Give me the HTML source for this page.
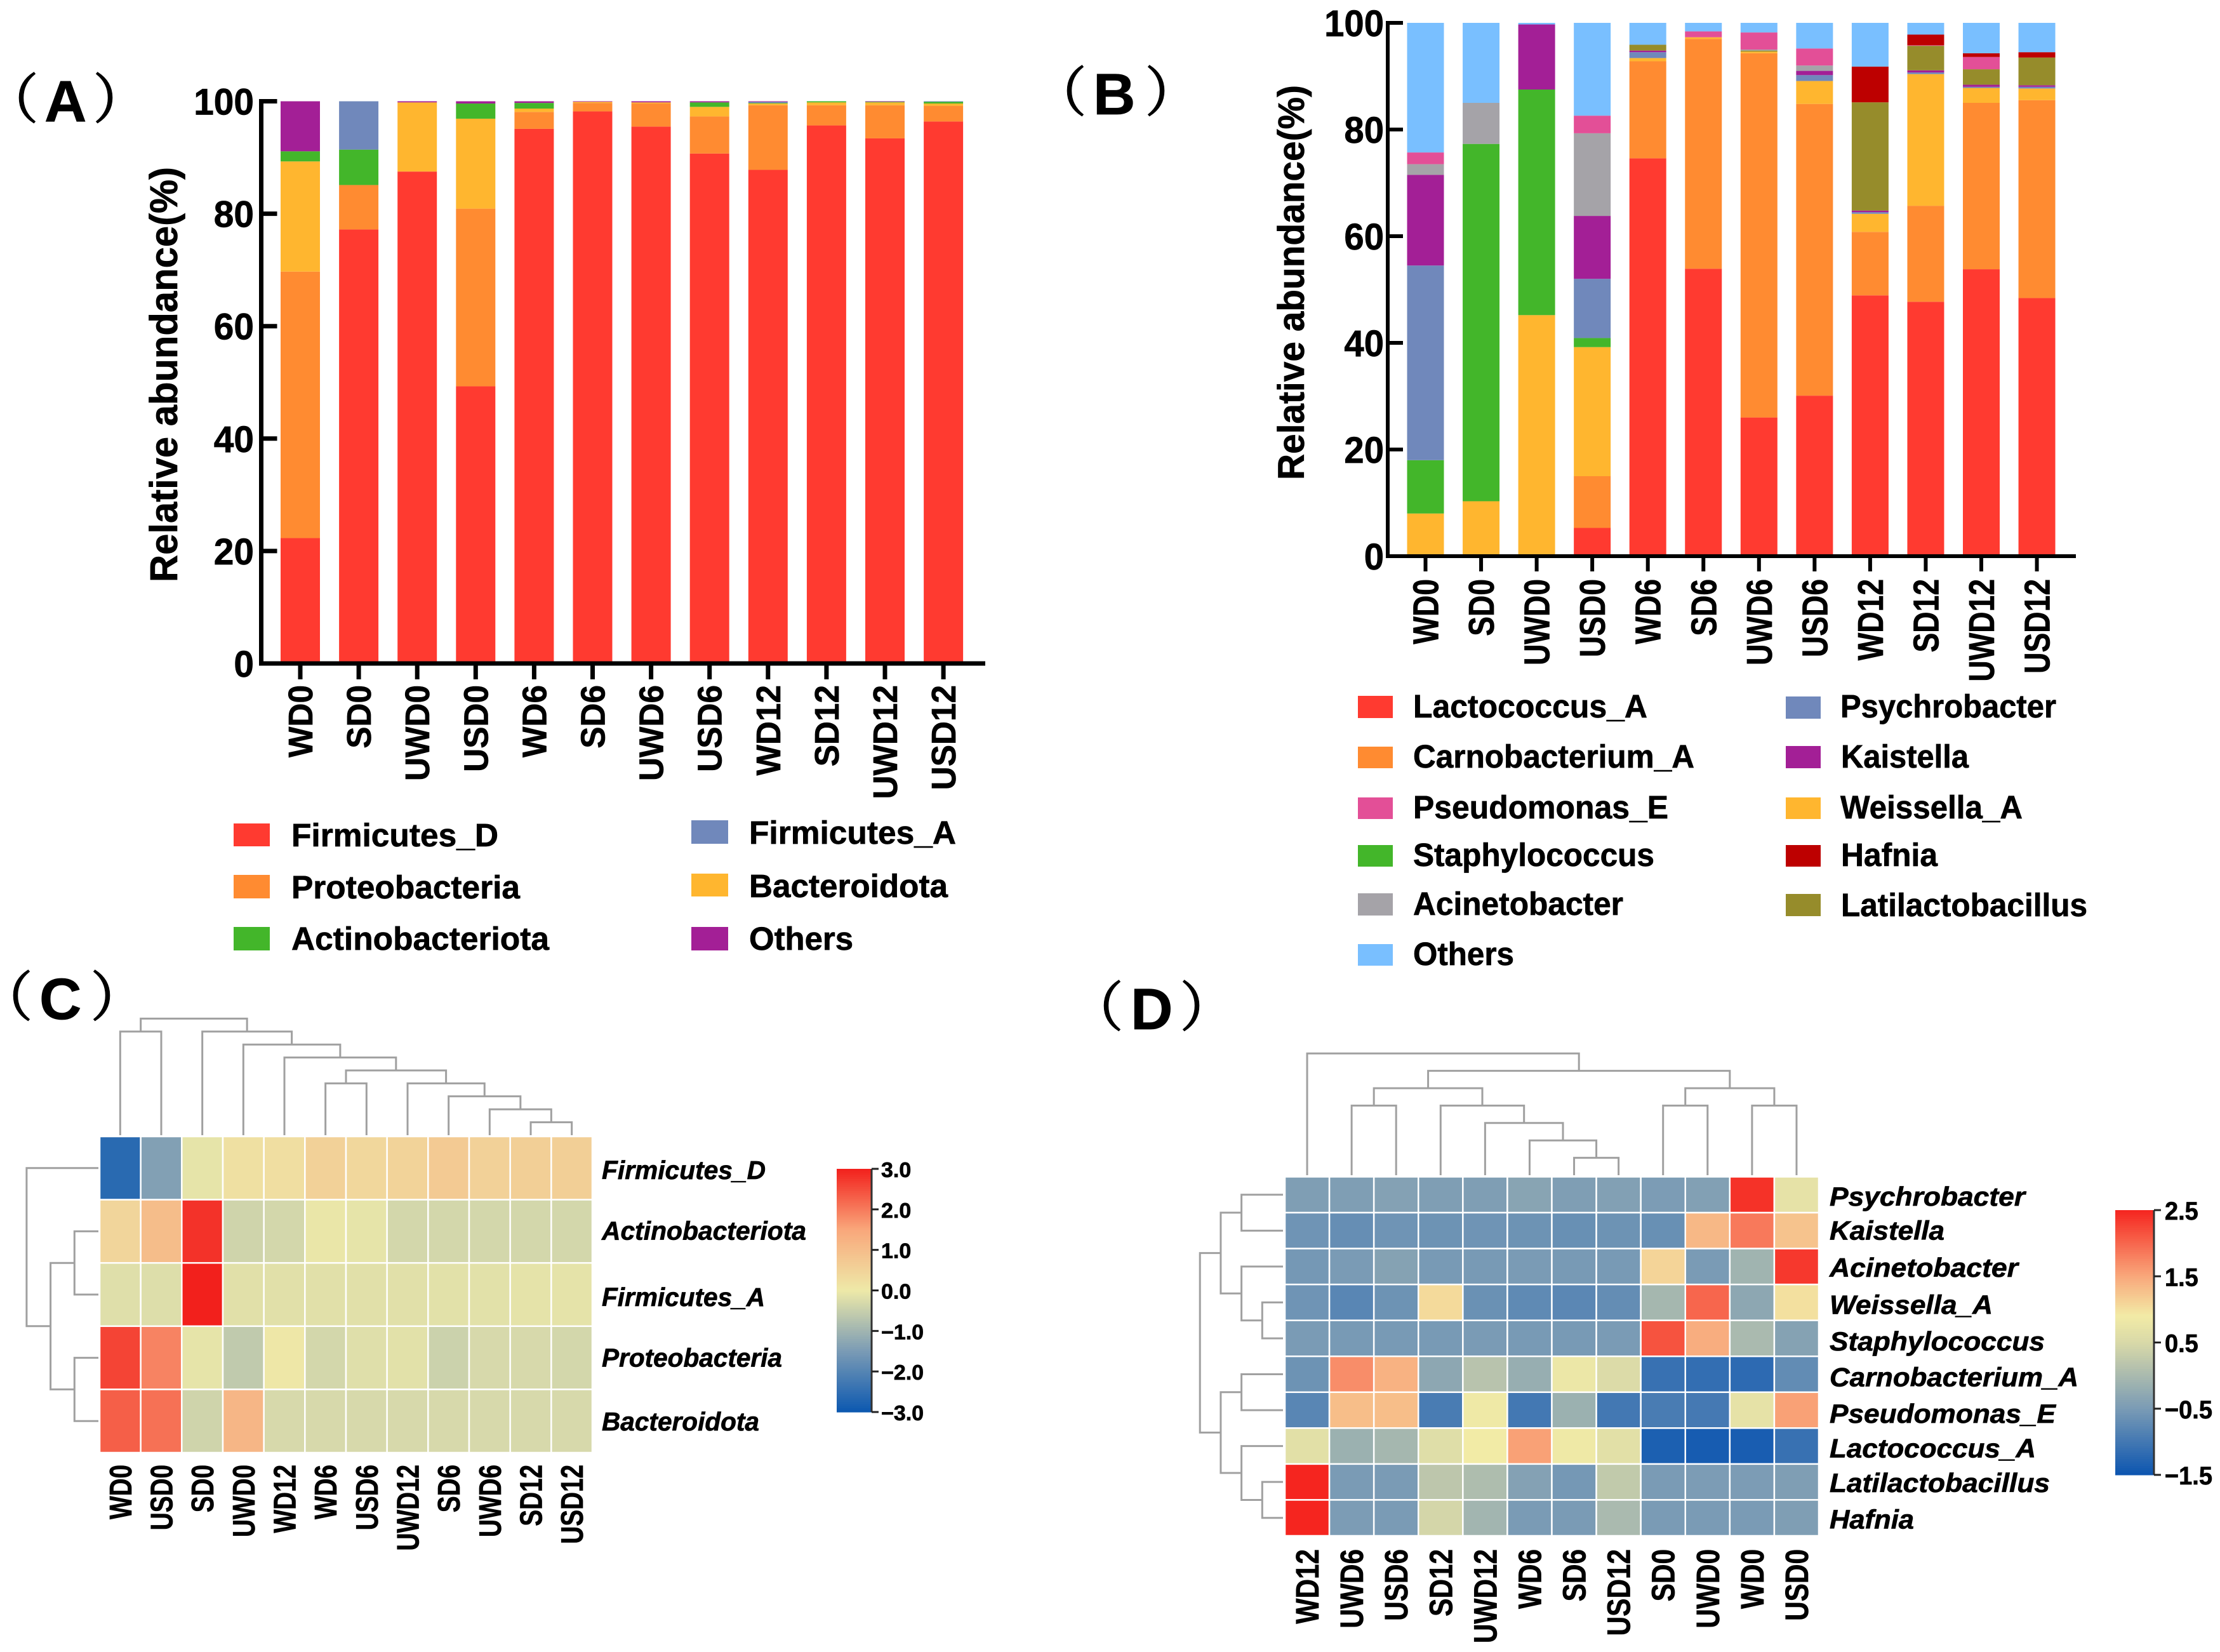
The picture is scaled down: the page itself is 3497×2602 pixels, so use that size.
<!DOCTYPE html>
<html lang="en">
<head>
<meta charset="utf-8">
<title>Relative abundance bar charts and heatmaps</title>
<style>
html,body{margin:0;padding:0;background:#fff;}
svg{display:block;}
text{font-family:"Liberation Sans","Noto Sans CJK SC",sans-serif;font-weight:700;fill:#000;stroke:#000;stroke-width:0.7px;}
.paren{font-family:"Noto Serif CJK SC","Liberation Serif",serif;font-weight:400;stroke:#000;stroke-width:2px;}
</style>
</head>
<body>
<svg id="fig" xmlns="http://www.w3.org/2000/svg" width="3497" height="2602" viewBox="0 0 3497 2602">
  <rect x="0" y="0" width="3497" height="2602" fill="#fff"/>
  <text font-size="92"><tspan class="paren" x="-24" y="186" font-size="84">（</tspan><tspan x="70" y="191">A</tspan><tspan class="paren" x="147" y="186" font-size="84">）</tspan></text>
  <text font-size="92"><tspan class="paren" x="1627" y="175" font-size="84">（</tspan><tspan x="1722" y="180">B</tspan><tspan class="paren" x="1804" y="175" font-size="84">）</tspan></text>
  <text font-size="92"><tspan class="paren" x="-33" y="1600" font-size="84">（</tspan><tspan x="62" y="1605">C</tspan><tspan class="paren" x="143" y="1600" font-size="84">）</tspan></text>
  <text font-size="92"><tspan class="paren" x="1685" y="1616" font-size="84">（</tspan><tspan x="1781" y="1621">D</tspan><tspan class="paren" x="1859" y="1616" font-size="84">）</tspan></text>
  <g id="panelA"></g>
  <g id="panelB"></g>
  <g id="panelC"></g>
  <g id="panelD"></g>
</svg>
<script>
// ---------- shared categories ----------
const barCategories = ['WD0','SD0','UWD0','USD0','WD6','SD6','UWD6','USD6','WD12','SD12','UWD12','USD12'];
const yTicksBar = [0,20,40,60,80,100];

// ---------- panel A values (bottom to top) ----------
const firmicutesD      = [22.3,77.2,87.5,49.3,95.1,98.2,95.5,90.7,87.8,95.7,93.4,96.4];
const proteobacteria   = [47.4,7.9,0,31.6,3.0,1.5,4.1,6.6,11.5,3.6,5.9,2.8];
const bacteroidota     = [19.6,0,12.3,16,0.6,0.2,0.2,1.7,0.3,0.5,0.5,0.4];
const actinobacteriota = [1.8,6.3,0,2.7,1.0,0,0,0.8,0.1,0.2,0.1,0.3];
const firmicutesA      = [0,8.6,0,0,0,0,0,0,0.2,0,0,0.1];
const othersA          = [8.9,0,0.2,0.4,0.3,0.1,0.2,0.2,0.1,0,0.1,0];

// ---------- panel B values (bottom to top) ----------
const lactococcus    = [0,0,0,5.3,74.6,53.9,26,30.1,48.9,47.7,53.8,48.4];
const carnobacterium = [0,0,0,9.7,18.2,43.1,68.3,54.7,11.9,18,31.2,37.1];
const weissella      = [8,10.3,45.2,24.2,0.6,0.3,0.3,4.3,3.4,24.7,2.8,2.2];
const staphylococcus = [10,67,42.3,1.7,0,0,0,0,0,0,0,0];
const psychrobacter  = [36.5,0,0,11.1,1.1,0,0,1.1,0.3,0.3,0.2,0.3];
const kaistella      = [17,0,12.2,11.8,0.3,0,0,0.8,0.3,0.4,0.4,0.3];
const latilacto      = [0,0,0,0,1.1,0,0.2,0,20.3,4.6,2.9,5.2];
const acinetobacter  = [2,7.7,0,15.5,0,0,0.2,1,0,0,0,0];
const pseudomonas    = [2.2,0,0,3.3,0,1.1,3.2,3.2,0,0.1,2.3,0];
const hafnia         = [0,0,0,0,0,0,0,0,6.7,2,0.7,1];
const othersB        = [24.3,15,0.3,17.4,4.1,1.6,1.8,4.8,8.2,2.2,5.7,5.5];

// ---------- panel C heatmap ----------
const heatCCols = ['WD0','USD0','SD0','UWD0','WD12','WD6','USD6','UWD12','SD6','UWD6','SD12','USD12'];
const heatCRows = ['Firmicutes_D','Actinobacteriota','Firmicutes_A','Proteobacteria','Bacteroidota'];
const heatCValues = [
  [-2.6,-1.4,-0.1,0.2,0.25,0.55,0.4,0.5,0.7,0.55,0.6,0.6],
  [0.45,1.0,2.8,-0.4,-0.35,-0.05,-0.1,-0.35,-0.35,-0.35,-0.35,-0.35],
  [-0.2,-0.22,3.0,-0.17,-0.17,-0.17,-0.17,-0.17,-0.15,-0.15,-0.12,-0.12],
  [2.6,1.9,-0.1,-0.6,0.05,-0.35,-0.2,-0.15,-0.45,-0.3,-0.3,-0.35],
  [2.3,2.1,-0.4,1.15,-0.3,-0.3,-0.3,-0.3,-0.3,-0.3,-0.3,-0.3]
];
const heatCTicks = [3,2,1,0,-1,-2,-3];
const colDendroC = [[10,11,1],[9,-1,2],[8,-2,3],[7,-3,4],[5,6,4],[-5,-4,5],[4,-6,6],[3,-7,7],[2,-8,8],[0,1,8],[-10,-9,9]];
const rowDendroC = [[1,2,1],[3,4,1],[-1,-2,2],[0,-3,3]];

// ---------- panel D heatmap ----------
const heatDCols = ['WD12','UWD6','USD6','SD12','UWD12','WD6','SD6','USD12','SD0','UWD0','WD0','USD0'];
const heatDRows = ['Psychrobacter','Kaistella','Acinetobacter','Weissella_A','Staphylococcus','Carnobacterium_A','Pseudomonas_E','Lactococcus_A','Latilactobacillus','Hafnia'];
const heatDValues = [
  [-0.45,-0.45,-0.4,-0.45,-0.45,-0.35,-0.45,-0.42,-0.48,-0.42,2.4,0.7],
  [-0.6,-0.68,-0.6,-0.62,-0.6,-0.62,-0.66,-0.62,-0.66,1.35,1.85,1.25],
  [-0.55,-0.5,-0.38,-0.52,-0.52,-0.5,-0.52,-0.52,1.1,-0.5,-0.1,2.35],
  [-0.6,-0.8,-0.62,1.05,-0.65,-0.75,-0.78,-0.7,-0.05,2.0,-0.3,1.0],
  [-0.5,-0.52,-0.52,-0.52,-0.5,-0.52,-0.52,-0.5,2.15,1.45,0,-0.38],
  [-0.62,1.7,1.4,-0.3,0.15,-0.2,0.8,0.55,-1.1,-1.15,-1.2,-0.72],
  [-0.8,1.3,1.3,-0.95,0.85,-1.0,-0.15,-1.0,-0.95,-0.98,0.7,1.55],
  [0.65,-0.15,-0.05,0.6,0.9,1.55,0.85,0.65,-1.35,-1.4,-1.38,-1.1],
  [2.5,-0.5,-0.5,0.2,0.05,-0.4,-0.55,0.25,-0.5,-0.48,-0.48,-0.45],
  [2.5,-0.48,-0.5,0.45,-0.08,-0.5,-0.5,0,-0.5,-0.5,-0.5,-0.45]
];
const heatDTicks = [2.5,1.5,0.5,-0.5,-1.5];
const colDendroD = [[6,7,1],[5,-1,2],[4,-2,3],[3,-3,4],[1,2,4],[-5,-4,5],[8,9,4],[10,11,4],[-7,-8,5],[-6,-9,6],[0,-10,7]];
const rowDendroD = [[0,1,2],[3,4,1],[2,-2,2],[-1,-3,3],[5,6,2],[8,9,1],[7,-6,2],[-5,-7,3],[-4,-8,4]];

// ---------- drawing helpers ----------
const SVGNS = 'http://www.w3.org/2000/svg';
function make(parent, tag, attrs){
  const el = document.createElementNS(SVGNS, tag);
  for (const k in attrs) el.setAttribute(k, attrs[k]);
  parent.appendChild(el);
  return el;
}
function line(parent, x1, y1, x2, y2, color, w, name){
  const el = make(parent, 'line', {x1:x1, y1:y1, x2:x2, y2:y2, stroke:color, 'stroke-width':w});
  
  
  return el;
}
function rect(parent, x, y, w, h, fill, name){
  const el = make(parent, 'rect', {x:x, y:y, width:w, height:h, fill:fill});
  
  
  return el;
}
// transform-based label: font size sets the cap height, sx condenses along the text
function label(parent, str, x, y, size, sx, rot, anchor, italic, name){
  const el = make(parent, 'text', {
    transform: 'translate(' + x + ' ' + y + ') rotate(' + rot + ') scale(' + sx + ' 1)',
    'font-size': size,
    'text-anchor': anchor
  });
  if (italic) el.setAttribute('font-style', 'italic');
  
  
  el.textContent = str;
  return el;
}
function fitted(parent, str, x, y, size, len, rot, italic, name){
  const el = make(parent, 'text', {
    transform: 'translate(' + x + ' ' + y + ') rotate(' + rot + ')',
    'font-size': size,
    textLength: len,
    lengthAdjust: 'spacingAndGlyphs'
  });
  if (italic) el.setAttribute('font-style', 'italic');
  
  
  el.textContent = str;
  return el;
}

// ---------- stacked bars ----------
function stackedBars(cfg){
  const g = cfg.g;
  const xScale = i => cfg.x0 + i * cfg.step;
  const yScale = v => cfg.y0 + (cfg.y100 - cfg.y0) * v / 100;
  barCategories.forEach((cat, i) => {
    let cum = 0;
    cfg.series.forEach((vals, s) => {
      const v = vals[i];
      if (v > 0) {
        const top = yScale(cum + v), bot = yScale(cum);
        rect(g, xScale(i) - cfg.barW / 2, top, cfg.barW, bot - top, cfg.colors[s], 'bar-' + cat + '-' + cfg.names[s]);
      }
      cum += v;
    });
  });
  line(g, cfg.axisX, cfg.y100 - cfg.sw / 2, cfg.axisX, cfg.y0 + cfg.sw / 2, '#000', cfg.sw, 'y-axis-line');
  line(g, cfg.axisX - cfg.sw / 2, cfg.y0, cfg.axisEnd, cfg.y0, '#000', cfg.sw, 'x-axis-line');
  yTicksBar.forEach(t => {
    line(g, cfg.axisX, yScale(t), cfg.axisX + cfg.yTickLen, yScale(t), '#000', cfg.sw, 'y-tick-' + t);
    label(g, String(t), cfg.yLabelX, yScale(t) + 21, 58, cfg.ySx, 0, 'end', false, 'y-tick-label-' + t);
  });
  barCategories.forEach((cat, i) => {
    line(g, xScale(i), cfg.y0, xScale(i), cfg.xTickEnd, '#000', cfg.sw, 'x-tick-' + cat);
    label(g, cat, xScale(i) + cfg.xLabelOff, cfg.xLabelTop, cfg.xLabelSize, cfg.xSx, -90, 'end', false, 'x-tick-label-' + cat);
  });
  fitted(g, 'Relative abundance(%)', cfg.titleX, cfg.titleY, cfg.titleSize, cfg.titleLen, -90, false, 'y-axis-title');
}

function legendEntry(g, swatch, text, textX, baseline, size, len, color){
  rect(g, swatch[0], swatch[1], swatch[2], swatch[3], color, 'legend-swatch-' + text);
  fitted(g, text, textX, baseline, size, len, 0, false, 'legend-label-' + text);
}

// panel A
const namesA = ['Firmicutes_D','Proteobacteria','Bacteroidota','Actinobacteriota','Firmicutes_A','Others'];
const colorsA = ['#ff3a30','#ff8b31','#ffb62f','#43b62a','#7088bb','#a31f96'];
const gA = document.getElementById('panelA');
stackedBars({
  g: gA, names: namesA, colors: colorsA,
  series: [firmicutesD, proteobacteria, bacteroidota, actinobacteriota, firmicutesA, othersA],
  x0: 473, step: 92.1, barW: 62, y0: 1045, y100: 159.5, axisX: 411.5, axisEnd: 1552, sw: 7,
  yTickLen: 25, xTickEnd: 1070, yLabelX: 400, ySx: 0.98,
  xLabelOff: 19, xLabelTop: 1079, xLabelSize: 54, xSx: 0.95,
  titleX: 279, titleY: 917, titleSize: 61, titleLen: 654
});
legendEntry(gA, [368,1297,57,36], 'Firmicutes_D', 459, 1333, 51, 326, colorsA[0]);
legendEntry(gA, [368,1378,57,37], 'Proteobacteria', 459, 1415, 51, 360, colorsA[1]);
legendEntry(gA, [368,1460,57,37], 'Actinobacteriota', 459, 1496, 51, 406, colorsA[3]);
legendEntry(gA, [1089,1292,58,37], 'Firmicutes_A', 1180, 1329, 51, 326, colorsA[4]);
legendEntry(gA, [1089,1376,58,36], 'Bacteroidota', 1180, 1413, 51, 313, colorsA[2]);
legendEntry(gA, [1089,1460,58,37], 'Others', 1180, 1496, 51, 164, colorsA[5]);

// panel B
const namesB = ['Lactococcus_A','Carnobacterium_A','Weissella_A','Staphylococcus','Psychrobacter','Kaistella','Latilactobacillus','Acinetobacter','Pseudomonas_E','Hafnia','Others'];
const colorsB = ['#ff3a30','#ff8b31','#ffb62f','#43b62a','#7088bb','#a31f96','#968c2b','#a5a3a8','#e34f97','#bd0000','#79bfff'];
const gB = document.getElementById('panelB');
stackedBars({
  g: gB, names: namesB, colors: colorsB,
  series: [lactococcus, carnobacterium, weissella, staphylococcus, psychrobacter, kaistella, latilacto, acinetobacter, pseudomonas, hafnia, othersB],
  x0: 2245.5, step: 87.55, barW: 58, y0: 876, y100: 36, axisX: 2186, axisEnd: 3270, sw: 6,
  yTickLen: 24, xTickEnd: 900, yLabelX: 2180, ySx: 0.97,
  xLabelOff: 20, xLabelTop: 912, xLabelSize: 57, xSx: 0.81,
  titleX: 2054, titleY: 756, titleSize: 58, titleLen: 622
});
legendEntry(gB, [2139,1096,55,35], 'Lactococcus_A', 2226, 1130, 51, 369, colorsB[0]);
legendEntry(gB, [2139,1176,55,34], 'Carnobacterium_A', 2226, 1209, 51, 443, colorsB[1]);
legendEntry(gB, [2139,1256,55,34], 'Pseudomonas_E', 2226, 1289, 51, 402, colorsB[8]);
legendEntry(gB, [2139,1331,55,34], 'Staphylococcus', 2226, 1364, 51, 380, colorsB[3]);
legendEntry(gB, [2139,1407,55,35], 'Acinetobacter', 2226, 1441, 51, 331, colorsB[7]);
legendEntry(gB, [2139,1487,55,34], 'Others', 2226, 1520, 51, 159, colorsB[10]);
legendEntry(gB, [2813,1097,55,35], 'Psychrobacter', 2899, 1130, 51, 340, colorsB[4]);
legendEntry(gB, [2813,1175,55,35], 'Kaistella', 2900, 1209, 51, 201, colorsB[5]);
legendEntry(gB, [2813,1256,55,34], 'Weissella_A', 2899, 1289, 51, 287, colorsB[2]);
legendEntry(gB, [2813,1331,55,34], 'Hafnia', 2900, 1364, 51, 152, colorsB[9]);
legendEntry(gB, [2813,1408,55,35], 'Latilactobacillus', 2900, 1443, 51, 388, colorsB[6]);

// ---------- heatmaps ----------
function lerpColor(stops, t){
  t = Math.max(0, Math.min(1, t));
  for (let i = 1; i < stops.length; i++) {
    if (t <= stops[i][0]) {
      const a = stops[i-1], b = stops[i], f = (t - a[0]) / (b[0] - a[0]);
      const ch = j => Math.round(a[1][j] + (b[1][j] - a[1][j]) * f);
      return 'rgb(' + ch(0) + ',' + ch(1) + ',' + ch(2) + ')';
    }
  }
  const l = stops[stops.length-1][1];
  return 'rgb(' + l[0] + ',' + l[1] + ',' + l[2] + ')';
}
const rampC = [[0,[12,88,176]],[0.25,[122,155,181]],[0.5,[238,233,168]],[0.75,[249,167,123]],[1,[242,32,28]]];
const rampD = [[0,[12,85,176]],[0.25,[122,155,181]],[0.5,[217,217,168]],[0.6,[242,235,166]],[0.75,[249,167,123]],[1,[245,37,31]]];

function dendrogram(g, merges, leafPos, levelPos, orient, name){
  const nodes = [];
  merges.forEach((m, idx) => {
    const pos = c => c >= 0 ? {p: leafPos(c), h: levelPos(0)} : nodes[-c - 1];
    const a = pos(m[0]), b = pos(m[1]), h = levelPos(m[2]);
    const d = orient === 'top'
      ? 'M' + a.p + ' ' + a.h + 'V' + h + 'H' + b.p + 'V' + b.h
      : 'M' + a.h + ' ' + a.p + 'H' + h + 'V' + b.p + 'H' + b.h;
    const el = make(g, 'path', {d: d, fill: 'none', stroke: '#a0a0a0', 'stroke-width': 3});
    
    
    nodes.push({p: (a.p + b.p) / 2, h: h});
  });
}

function heatmap(cfg){
  const g = cfg.g;
  const cw = (cfg.x1 - cfg.x0) / cfg.cols.length, rh = (cfg.y1 - cfg.y0) / cfg.rows.length;
  const colX = i => cfg.x0 + cw * (i + 0.5);
  const rowY = i => cfg.y0 + rh * (i + 0.5);
  const tOf = v => (v - cfg.vMin) / (cfg.vMax - cfg.vMin);
  cfg.values.forEach((row, r) => row.forEach((v, c) => {
    const el = rect(g, cfg.x0 + c * cw, cfg.y0 + r * rh, cw, rh, lerpColor(cfg.ramp, tOf(v)), 'cell-' + cfg.rows[r] + '-' + cfg.cols[c]);
    el.setAttribute('stroke', '#fff');
    el.setAttribute('stroke-width', 2.5);
  }));
  dendrogram(g, cfg.colDendro, colX, h => cfg.colTip - h * cfg.colStep, 'top', 'column-dendrogram');
  dendrogram(g, cfg.rowDendro, rowY, h => cfg.rowTip - h * cfg.rowStep, 'left', 'row-dendrogram');
  cfg.cols.forEach((c, i) => {
    label(g, c, colX(i) + cfg.colLabelOff, cfg.colLabelTop, cfg.colLabelSize, cfg.colSx, -90, 'end', false, 'column-label-' + c);
  });
  cfg.rows.forEach((r, i) => {
    fitted(g, r, cfg.rowLabelX, rowY(i) + cfg.rowBase[i], cfg.rowSize, cfg.rowLens[i], 0, true, 'row-label-' + r);
  });
  // colour bar
  const bar = cfg.bar, N = 120, bh = (bar.y1 - bar.y0) / N;
  for (let i = 0; i < N; i++) {
    rect(g, bar.x0, bar.y0 + i * bh, bar.x1 - bar.x0, bh + 0.6, lerpColor(cfg.ramp, 1 - (i + 0.5) / N), 'colorbar-step');
  }
  line(g, bar.x1, bar.y0, bar.x1, bar.y1, '#333', 3, 'colorbar-axis');
  const barY = v => bar.y1 - (bar.y1 - bar.y0) * tOf(v);
  cfg.ticks.forEach(t => {
    line(g, bar.x1, barY(t), bar.x1 + 11, barY(t), '#222', 3, 'colorbar-tick-' + t);
    const s = (t < 0 ? '\u2212' : '') + Math.abs(t).toFixed(1);
    label(g, s, bar.x1 + bar.labelOff, barY(t) + bar.base, bar.size, bar.sx, 0, 'start', false, 'colorbar-label-' + t);
  });
}

heatmap({
  g: document.getElementById('panelC'),
  cols: heatCCols, rows: heatCRows, values: heatCValues, ticks: heatCTicks, ramp: rampC,
  vMin: -3, vMax: 3,
  x0: 157, x1: 933, y0: 1790, y1: 2288,
  colDendro: colDendroC, colTip: 1788, colStep: 20.4,
  rowDendro: rowDendroC, rowTip: 155, rowStep: 37.7,
  colLabelOff: 17.5, colLabelTop: 2307, colLabelSize: 49, colSx: 0.79,
  rowLabelX: 948, rowSize: 41,
  rowLens: [258,322,257,284,248],
  rowBase: [17,13,18,14,15],
  bar: {x0: 1318, x1: 1373, y0: 1841, y1: 2224, labelOff: 15, base: 13, size: 33, sx: 1.03}
});

heatmap({
  g: document.getElementById('panelD'),
  cols: heatDCols, rows: heatDRows, values: heatDValues, ticks: heatDTicks, ramp: rampD,
  vMin: -1.5, vMax: 2.5,
  x0: 2024, x1: 2865, y0: 1853.5, y1: 2419,
  colDendro: colDendroD, colTip: 1851, colStep: 27.4,
  rowDendro: rowDendroD, rowTip: 2021, rowStep: 32.7,
  colLabelOff: 18, colLabelTop: 2440, colLabelSize: 51, colSx: 0.83,
  rowLabelX: 2882, rowSize: 42,
  rowLens: [308,181,297,257,339,392,356,325,347,133],
  rowBase: [17,14,16,18,19,19,20,18,16,17],
  bar: {x0: 3332, x1: 3393, y0: 1906, y1: 2323, labelOff: 17, base: 15, size: 40, sx: 0.95}
});
</script>
</body>
</html>
